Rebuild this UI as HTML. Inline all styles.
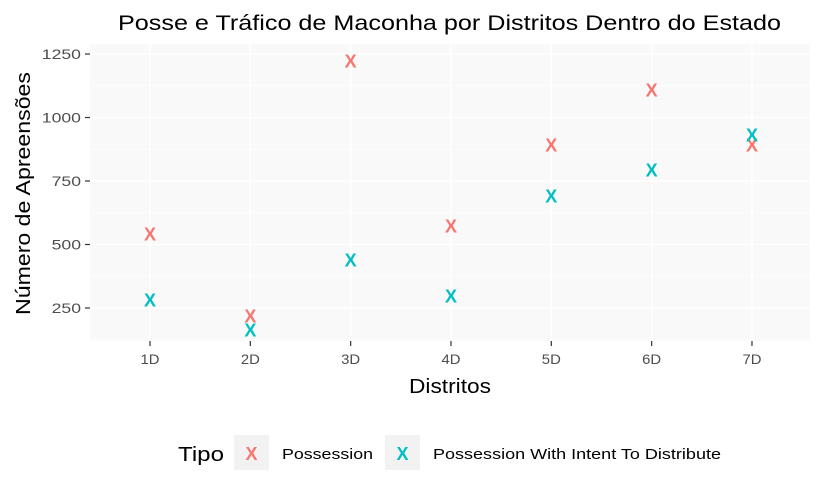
<!DOCTYPE html>
<html><head><meta charset="utf-8"><style>
body{margin:0;background:#fff;font-family:"Liberation Sans",Arial,sans-serif}
</style></head><body>
<svg id="chart" width="823" height="493" xmlns="http://www.w3.org/2000/svg">
<rect x="0" y="0" width="823" height="493" fill="#fff"/>
<rect x="90" y="44" width="720" height="297" fill="#f9f9f9"/>
<g id="grid"></g>
<g id="axes"></g>
<g id="marks"></g>
<text x="118" y="30" font-size="21" textLength="663" lengthAdjust="spacingAndGlyphs" fill="#000">Posse e Tráfico de Maconha por Distritos Dentro do Estado</text>
<text x="409" y="393" font-size="20" textLength="82" lengthAdjust="spacingAndGlyphs" fill="#000">Distritos</text>
<text transform="translate(30,315) rotate(-90)" font-size="20" textLength="243" lengthAdjust="spacingAndGlyphs" fill="#000">Número de Apreensões</text>
<g>
<text x="178" y="461" font-size="20" textLength="46" lengthAdjust="spacingAndGlyphs" fill="#000">Tipo</text>
<g>
<rect x="234" y="435" width="35" height="35" fill="#f2f2f2"/>
<text x="251.5" y="460" font-size="18" font-weight="bold" text-anchor="middle" fill="#F8766D">X</text>
<text x="282" y="459" font-size="15" textLength="91" lengthAdjust="spacingAndGlyphs" fill="#000">Possession</text>
</g>
<g>
<rect x="385" y="435" width="35" height="35" fill="#f2f2f2"/>
<text x="402.5" y="460" font-size="18" font-weight="bold" text-anchor="middle" fill="#00BFC4">X</text>
<text x="433" y="459" font-size="15" textLength="288" lengthAdjust="spacingAndGlyphs" fill="#000">Possession With Intent To Distribute</text>
</g>
</g>
</svg>
<script>
const categories=["1D","2D","3D","4D","5D","6D","7D"];
const possession=[541,218,1222,572,892,1108,892];
const intent=[281,163,439,297,691,793,931];
const yTicks=[250,500,750,1000,1250];
const NS="http://www.w3.org/2000/svg";
function xs(i){return 150+i*100.33;}
function ys(v){return 371.5-v*0.254;}
function mk(tag,attrs,parent,txt){const e=document.createElementNS(NS,tag);for(const k in attrs)e.setAttribute(k,attrs[k]);if(txt!==undefined)e.textContent=txt;parent.appendChild(e);return e;}
const grid=document.getElementById('grid'),axes=document.getElementById('axes'),marks=document.getElementById('marks');
for(let i=0;i<yTicks.length;i++){
 const v=yTicks[i];
 const g=mk('line',{x1:90,x2:810,y1:ys(v),y2:ys(v),stroke:'#fff','stroke-width':1.4},grid);
 
 
 if(i<yTicks.length-1){const m=mk('line',{x1:90,x2:810,y1:ys(v+125),y2:ys(v+125),stroke:'#fff','stroke-width':0.7},grid);
 
 }
 mk('line',{x1:85,x2:90,y1:ys(v),y2:ys(v),stroke:'#333','stroke-width':1.2},axes);
 const s=String(v);
 const t=mk('text',{x:81,y:ys(v)+5,'font-size':14,'text-anchor':'end',fill:'#4d4d4d',textLength:s.length*9.8,lengthAdjust:'spacingAndGlyphs'},axes,s);
 
 
}
const mg=mk('line',{x1:90,x2:810,y1:ys(125),y2:ys(125),stroke:'#fff','stroke-width':0.7},grid);


categories.forEach((c,i)=>{
 const g=mk('line',{x1:xs(i),x2:xs(i),y1:44,y2:341,stroke:'#fff','stroke-width':1.4},grid);
 
 
 mk('line',{x1:xs(i),x2:xs(i),y1:341,y2:346,stroke:'#333','stroke-width':1.2},axes);
 const t=mk('text',{x:xs(i),y:364,'font-size':14,'text-anchor':'middle',fill:'#4d4d4d',textLength:19,lengthAdjust:'spacingAndGlyphs'},axes,c);
 
 
});
function drawSeries(arr,color,name){
 arr.forEach((v,i)=>{
  const t=mk('text',{x:xs(i),y:ys(v)+6.5,'font-size':18,'font-weight':'bold','text-anchor':'middle',fill:color},marks,'X');
  
  
 });
}
drawSeries(possession,'#F8766D','possession');
drawSeries(intent,'#00BFC4','intent');
</script>
</body></html>
